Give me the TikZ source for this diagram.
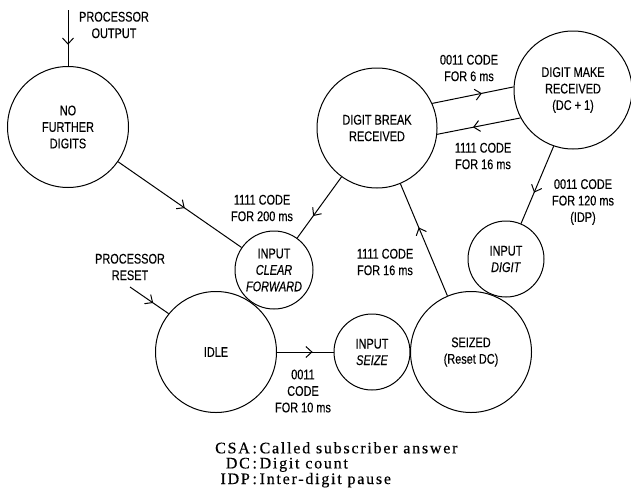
\documentclass[tikz,border=0pt]{standalone}
\usepackage{fontspec}
\setmainfont{Liberation Serif}
\newfontfamily\condsans[FakeStretch=0.78, FakeBold=0.3]{Liberation Sans}
\usepackage{tikz}
\usetikzlibrary{arrows.meta, decorations.markings}
\tikzset{
  state/.style={circle, draw, line width=1pt, align=center, inner sep=0pt, font=\condsans\fontsize{14}{16.5}\selectfont},
  big/.style={state, minimum size=121pt},
  inp/.style={state, minimum size=76pt},
  lab/.style={align=center, inner sep=0pt, font=\condsans\fontsize{14}{16.5}\selectfont},
  arr/.style={line width=1pt, postaction={decorate}, decoration={markings, mark=at position #1 with {\arrow{Straight Barb[length=6pt,width=11pt,line width=1pt]}}}},
  key/.style={inner sep=0pt, font=\addfontfeature{LetterSpace=11, FakeBold=0.4}\fontsize{16}{15}\selectfont},
}
\begin{document}
\begin{tikzpicture}[x=1pt, y=-1pt]
  \useasboundingbox (0,0) rectangle (631,493);
  \node[big] (nfd) at (68,127) {NO\\FURTHER\\DIGITS};
  \node[big, minimum size=120pt] (dbr) at (377,128) {DIGIT BREAK\\RECEIVED};
  \node[big, minimum size=118pt] (dmr) at (573,90) {DIGIT MAKE\\RECEIVED\\(DC + 1)};
  \node[inp] (idig) at (506,259) {INPUT\\\textit{DIGIT}};
  \node[big] (seized) at (471,352) {SEIZED\\(Reset DC)};
  \node[inp] (iseize) at (372,352) {INPUT\\\textit{SEIZE}};
  \node[big] (idle) at (216,352) {IDLE};
  \node[inp, minimum size=78pt] (icf) at (274,270) {INPUT\\\textit{CLEAR}\\\textit{FORWARD}};

  \coordinate (po) at (68,10);
  \coordinate (pr) at (130,287);

  \draw[arr=0.62] (po) -- (nfd);
  \draw[arr=0.54] (nfd) -- (icf);
  \draw[arr=0.64] (dbr) -- (icf);
  \draw[arr=0.61] (seized) -- (dbr);
  \draw[arr=0.61] (dbr.24) -- (dmr.177);
  \draw[arr=0.57] (dmr.208) -- (dbr.-6);
  \draw[arr=0.6] (dmr.-109) -- (idig.67);
  \draw[arr=0.63] (idle) -- (iseize);
  \draw[arr=0.6] (pr) -- (idle.141);

  \node[lab] (lpo) at (114,25) {PROCESSOR\\OUTPUT};
  \node[lab] (lpr) at (130,267) {PROCESSOR\\RESET};
  \node[lab] (lcf) at (262,208) {1111 CODE\\FOR 200 ms};
  \node[lab] (lbk) at (385,262) {1111 CODE\\FOR 16 ms};
  \node[lab] (lmk) at (469,68) {0011 CODE\\FOR 6 ms};
  \node[lab] (lbr) at (483,156) {1111 CODE\\FOR 16 ms};
  \node[lab] (lip) at (583,202) {0011 CODE\\FOR 120 ms\\(IDP)};
  \node[lab] (lsz) at (303,391) {0011\\CODE\\FOR 10 ms};

  \node[key, anchor=north west] (legend) at (215,442) {%
    \begin{tabular}{@{}r@{\,:\,}l@{}}
      CSA & Called subscriber answer\\
      DC & Digit count\\
      IDP & Inter-digit pause
    \end{tabular}};
\end{tikzpicture}
\end{document}
